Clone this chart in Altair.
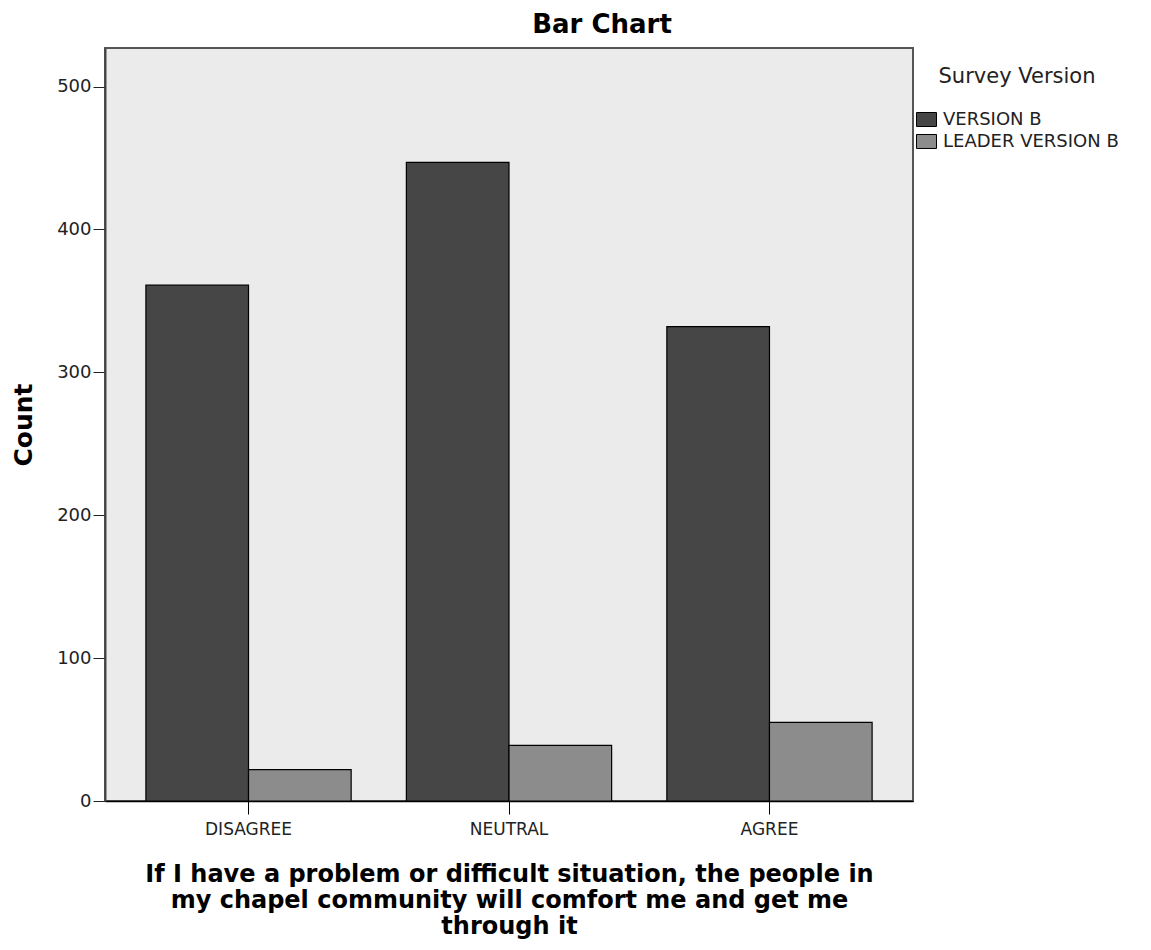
import altair as alt
import pandas as pd

categories = ["DISAGREE", "NEUTRAL", "AGREE"]
versions = ["VERSION B", "LEADER VERSION B"]
version_b = [361, 447, 332]
leader_b = [22, 39, 55]
y_ticks = [0, 100, 200, 300, 400, 500]
x_title = [
    "If I have a problem or difficult situation, the people in",
    "my chapel community will comfort me and get me",
    "through it",
]

rows = []
for c, a, b in zip(categories, version_b, leader_b):
    rows.append({"response": c, "version": versions[0], "count": a})
    rows.append({"response": c, "version": versions[1], "count": b})
df = pd.DataFrame(rows)

FONT = "DejaVu Sans"

chart = (
    alt.Chart(df)
    .mark_bar(stroke="black", strokeWidth=1.2)
    .encode(
        x=alt.X(
            "response:N",
            sort=categories,
            scale=alt.Scale(paddingInner=0.212, paddingOuter=0.157),
            axis=alt.Axis(
                title=x_title,
                labelAngle=0,
                labelFontSize=17,
                labelColor="#222222",
                labelPadding=7,
                tickSize=13,
                tickColor="black",
                domainColor="black",
                domainWidth=1.5,
                titleFontSize=24,
                titleFontWeight="bold",
                titleLineHeight=26,
                titlePadding=25,
                titleColor="black",
            ),
        ),
        xOffset=alt.XOffset(
            "version:N",
            sort=versions,
            scale=alt.Scale(paddingInner=0, paddingOuter=0),
        ),
        y=alt.Y(
            "count:Q",
            scale=alt.Scale(domain=[0, 527], nice=False),
            axis=alt.Axis(
                values=y_ticks,
                title="Count",
                grid=False,
                labelFontSize=18,
                labelColor="#222222",
                labelPadding=2,
                tickSize=12,
                tickColor="#222222",
                domainColor="#444444",
                domainWidth=2,
                titleFontSize=25,
                titleFontWeight="bold",
                titlePadding=20,
                titleColor="black",
            ),
        ),
        color=alt.Color(
            "version:N",
            sort=versions,
            scale=alt.Scale(domain=versions, range=["#464646", "#8c8c8c"]),
            legend=alt.Legend(
                title="Survey Version",
                orient="none",
                legendX=811,
                legendY=18,
                titleFontSize=21,
                titleFontWeight="normal",
                titleColor="#222222",
                titleAnchor="middle",
                titleAlign="center",
                titlePadding=22,
                labelFontSize=18,
                labelColor="#222222",
                labelOffset=6,
                labelLimit=0,
                rowPadding=2,
                symbolType="M-1,-0.7H1V0.7H-1Z",
                symbolSize=400,
                symbolStrokeColor="black",
                symbolStrokeWidth=1,
                symbolOpacity=1,
            ),
        ),
    )
    .properties(
        width=808,
        height=753,
        title=alt.TitleParams(
            "Bar Chart",
            fontSize=26,
            fontWeight="bold",
            font=FONT,
            color="black",
            anchor="middle",
            dx=93,
            offset=10,
        ),
        autosize=alt.AutoSizeParams(type="none"),
        padding={"left": 105, "top": 48, "right": 238, "bottom": 149},
    )
    .configure(font=FONT)
    .configure_view(fill="#ebebeb", stroke="#555555", strokeWidth=2)
)

chart.save("out.html", embed_options={"renderer": "svg", "actions": False})
